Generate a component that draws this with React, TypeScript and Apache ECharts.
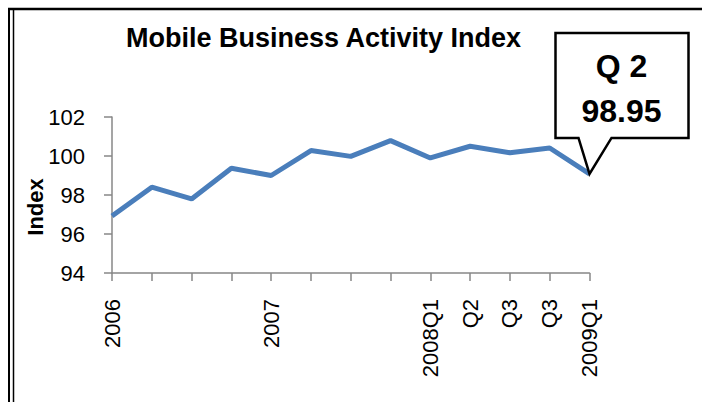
import React, { useEffect, useRef } from "react";
import * as echarts from "echarts";

// Tick labels on the category axis (blank = unlabeled tick)
const categories = ["2006", "", "", "", "2007", "", "", "", "2008Q1", "Q2", "Q3", "Q3", "2009Q1"];
// Index values
const indexValues = [96.92, 98.4, 97.8, 99.37, 99.0, 100.28, 99.98, 100.79, 99.9, 100.5, 100.17, 100.41, 99.08];
const yMin = 94;
const yMax = 102;
const yInterval = 2;
const chartTitle = "Mobile Business Activity Index";
const yAxisName = "Index";
const calloutTitle = "Q 2";
const calloutValue = "98.95";

const FONT = "'Liberation Sans', Arial, sans-serif";

export default function App() {
  const ref = useRef<HTMLDivElement>(null);
  useEffect(() => {
    const chart = echarts.init(ref.current!, null, { renderer: "svg" });
    const axisColor = "#878787";
    chart.setOption({
      animation: false,
      backgroundColor: "#ffffff",
      title: {
        text: chartTitle,
        left: 121,
        top: 19,
        textStyle: { fontFamily: FONT, fontSize: 27, fontWeight: "bold", color: "#000" },
      },
      grid: { left: 112, right: 112.5, top: 117, bottom: 129 },
      xAxis: {
        type: "category",
        data: categories,
        boundaryGap: false,
        axisLine: { show: true, lineStyle: { color: axisColor, width: 1.5 } },
        axisTick: { show: true, length: 8, interval: 0, lineStyle: { color: axisColor, width: 1.5 } },
        axisLabel: { interval: 0, rotate: 90, margin: 26, fontSize: 22, color: "#000", fontFamily: FONT },
        splitLine: { show: false },
      },
      yAxis: {
        type: "value",
        min: yMin,
        max: yMax,
        interval: yInterval,
        splitLine: { show: false },
        axisLine: { show: true, lineStyle: { color: axisColor, width: 1.5 } },
        axisTick: { show: true, length: 8, lineStyle: { color: axisColor, width: 1.5 } },
        axisLabel: { margin: 27, fontSize: 22, color: "#000", fontFamily: FONT },
      },
      series: [
        {
          type: "line",
          data: indexValues,
          symbol: "none",
          showSymbol: false,
          lineStyle: { color: "#4a7ebb", width: 5 },
        },
      ],
    });

    const last = indexValues.length - 1;
    const [tx, ty] = chart.convertToPixel({ seriesIndex: 0 }, [last, indexValues[last]]) as number[];
    const left = tx - 34;
    const right = tx + 99;
    const top = ty - 141;
    const bottom = ty - 36;

    chart.setOption({
      graphic: [
        // frame lines
        { type: "line", shape: { x1: 8, y1: 9, x2: 702, y2: 9 }, style: { stroke: "#000", lineWidth: 2.5 }, silent: true },
        { type: "line", shape: { x1: 9, y1: 8, x2: 9, y2: 402 }, style: { stroke: "#000", lineWidth: 2 }, silent: true },
        { type: "line", shape: { x1: 13.5, y1: 10, x2: 13.5, y2: 402 }, style: { stroke: "#000", lineWidth: 1.5 }, silent: true },
        {
          type: "text",
          x: 35,
          y: 207,
          rotation: Math.PI / 2,
          style: {
            text: yAxisName,
            font: `bold 22px ${FONT}`,
            fill: "#000",
            align: "center",
            verticalAlign: "middle",
          },
        },
        {
          type: "polygon",
          shape: {
            points: [
              [left, top],
              [right, top],
              [right, bottom],
              [tx + 22, bottom],
              [tx, ty],
              [tx - 11, bottom],
              [left, bottom],
            ],
          },
          style: { fill: "#fff", stroke: "#000", lineWidth: 2.5, lineJoin: "miter" },
          z: 10,
        },
        {
          type: "text",
          x: tx + 32,
          y: ty - 108,
          z: 11,
          style: {
            text: calloutTitle,
            font: `bold 32px ${FONT}`,
            fill: "#000",
            align: "center",
            verticalAlign: "middle",
          },
        },
        {
          type: "text",
          x: tx + 32,
          y: ty - 63,
          z: 11,
          style: {
            text: calloutValue,
            font: `bold 32px ${FONT}`,
            fill: "#000",
            align: "center",
            verticalAlign: "middle",
          },
        },
      ],
    });

    return () => chart.dispose();
  }, []);
  return <div ref={ref} style={{ position: "fixed", left: 0, top: 0, width: 702, height: 402 }} />;
}
